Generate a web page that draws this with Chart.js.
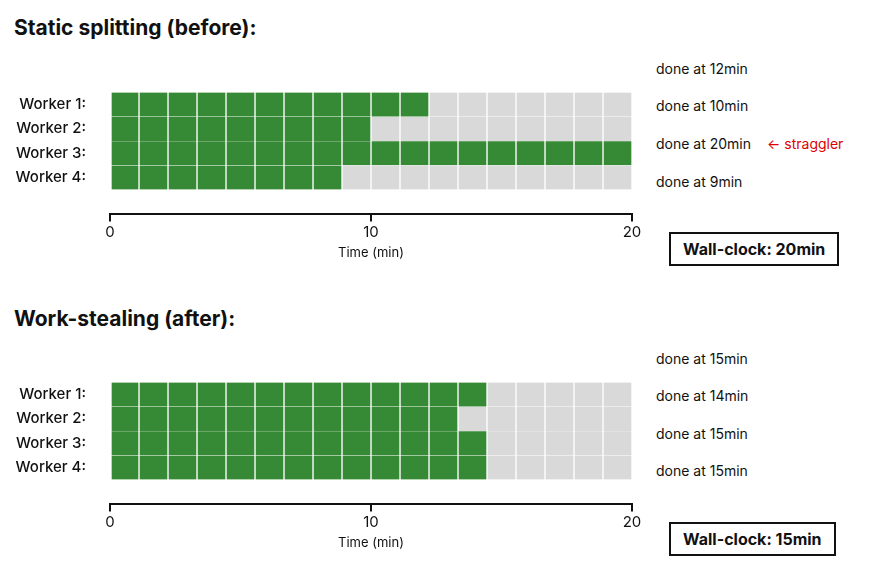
<!DOCTYPE html>
<html><head><meta charset="utf-8">
<script src="https://cdn.jsdelivr.net/npm/chart.js@4"></script>
<style>
body{margin:0;width:870px;height:580px;background:#fff;font-family:Inter,"Noto Sans",sans-serif;position:relative;overflow:hidden;color:#111}
.t{position:absolute;white-space:nowrap}
h2{position:absolute;margin:0;font-size:21px;font-weight:700;left:14px}
.done{font-size:14px;left:656px}
.box{position:absolute;border:2px solid #111;font-size:16px;font-weight:700;padding:5px 12px}
canvas{position:absolute;left:0}
</style></head><body>
<h2 style="top:15px">Static splitting (before):</h2>
<h2 style="top:306px">Work-stealing (after):</h2>
<div class="t done" style="top:60px">done at 12min</div>
<div class="t done" style="top:97px">done at 10min</div>
<div class="t done" style="top:135px">done at 20min</div>
<div class="t" style="top:135px;left:767px;font-size:14px;color:#e00000">← straggler</div>
<div class="t done" style="top:173px">done at 9min</div>
<div class="t done" style="top:350px">done at 15min</div>
<div class="t done" style="top:387px">done at 14min</div>
<div class="t done" style="top:425px">done at 15min</div>
<div class="t done" style="top:462px">done at 15min</div>
<div class="box" style="left:669px;top:232px">Wall-clock: 20min</div>
<div class="box" style="left:669px;top:522px">Wall-clock: 15min</div>
<canvas id="c1" width="870" height="215" style="top:50px;width:870px;height:215px"></canvas>
<canvas id="c2" width="870" height="215" style="top:340px;width:870px;height:215px"></canvas>
<script>
const workers = ["Worker 1:", "Worker 2:", "Worker 3:", "Worker 4:"];
const totalBlocks = 18;
const totalMinutes = 20;
const beforeBlocks = [11, 9, 18, 8];
const afterBlocks = [13, 12, 13, 13];
const xTicks = [0, 10, 20];

function make(id, counts){
  const w = totalMinutes/totalBlocks;
  const datasets = [];
  for(let i=0;i<totalBlocks;i++){
    datasets.push({
      data: counts.map((c,r)=>({x:[i*w,(i+1)*w], y:r})),
      backgroundColor: counts.map(c=> i<c ? '#368a36' : '#d9d9d9'),
      borderColor:'#ffffff', borderWidth:{left:1,right:1,top:0,bottom:0}, borderSkipped:false,
      barThickness:24, grouped:false
    });
  }
  new Chart(document.getElementById(id),{
    type:'bar',
    data:{datasets},
    options:{
      indexAxis:'y', responsive:false, animation:false,
      layout:{padding:{left:0,right:238,top:0,bottom:0}},
      plugins:{legend:{display:false},tooltip:{enabled:false}},
      scales:{
        x:{type:'linear',min:0,max:totalMinutes,
          afterBuildTicks:s=>{s.ticks=xTicks.map(v=>({value:v}));},
          ticks:{color:'#111',font:{family:'Inter',size:15},padding:2},
          grid:{drawOnChartArea:false,color:'#111',lineWidth:2,tickLength:7},
          border:{color:'#111',width:2},
          title:{display:true,text:'Time (min)',color:'#111',font:{family:'Inter',size:13},padding:{top:2}}
        },
        y:{type:'linear',min:-0.5,max:3.8,reverse:true,
          afterBuildTicks:s=>{s.ticks=workers.map((_,i)=>({value:i}));},
          afterFit:s=>{s.width=110;},
          ticks:{color:'#111',font:{family:'Inter',size:15,weight:'500'},padding:16,callback:v=>workers[v]},
          grid:{display:false},border:{display:false}
        }
      }
    }
  });
}
make('c1', beforeBlocks);
make('c2', afterBlocks);
</script>
</body></html>
